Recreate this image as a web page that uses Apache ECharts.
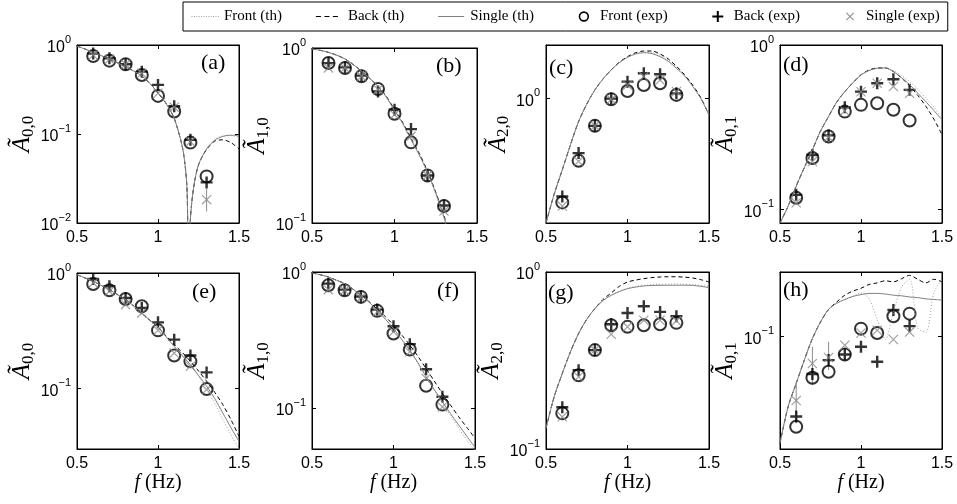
<!DOCTYPE html>
<html><head><meta charset="utf-8">
<script src="https://cdn.jsdelivr.net/npm/echarts/dist/echarts.min.js"></script>
<style>html,body{margin:0;padding:0;background:#fff}#c{width:957px;height:504px}</style>
</head><body><div id="c"></div>
<script>
// ---------------- data ----------------
const F_EXP = [0.6, 0.7, 0.8, 0.9, 1.0, 1.1, 1.2, 1.3];
const F_TH = [0.5,0.55,0.6,0.65,0.7,0.75,0.8,0.85,0.9,0.95,1.0,1.05,1.1,1.15,1.2,1.25,1.3,1.35,1.4,1.45,1.5];
const F_TH_A = [0.5,0.55,0.6,0.65,0.7,0.75,0.8,0.85,0.9,0.95,1.0,1.05,1.1,1.15,1.17,1.18,1.19,1.2,1.22,1.25,1.3,1.35,1.4,1.45,1.5];
const X_TICKS = [0.5, 1, 1.5];

// (a) A0,0
const A_SOLID = [0.97,0.90,0.83,0.76,0.69,0.63,0.57,0.51,0.45,0.37,0.29,0.22,0.15,0.072,0.040,0.022,0.002,0.011,0.025,0.045,0.068,0.085,0.094,0.097,0.095];
const A_DASH  = [0.97,0.90,0.83,0.76,0.69,0.63,0.57,0.51,0.45,0.37,0.29,0.22,0.15,0.072,0.040,0.022,0.002,0.011,0.025,0.045,0.067,0.083,0.086,0.080,0.068];
const A_DOT   = [0.97,0.90,0.83,0.76,0.69,0.63,0.57,0.51,0.45,0.37,0.29,0.22,0.15,0.072,0.040,0.022,0.002,0.011,0.025,0.045,0.068,0.086,0.095,0.096,0.092];
const A_FRONT  = [0.753,0.667,0.607,0.461,0.268,0.179,0.080,0.0334];
const A_BACK   = [0.80,0.709,0.607,0.502,0.356,0.205,0.086,0.0286];
const A_SINGLE = [0.77,0.69,0.607,0.48,0.287,0.20,0.082,0.0183];
const A_ERR = [[1.3, 0.0135, 0.024]];

// (b) A1,0
const B_SOLID = [0.987,0.97,0.944,0.91,0.865,0.805,0.736,0.67,0.604,0.525,0.44,0.37,0.30,0.245,0.195,0.148,0.108,0.075,0.05,0.033,0.02];
const B_DASH  = [0.987,0.97,0.944,0.91,0.865,0.805,0.736,0.67,0.604,0.53,0.445,0.375,0.305,0.25,0.198,0.15,0.11,0.077,0.052,0.035,0.022];
const B_DOT   = [0.987,0.97,0.944,0.91,0.865,0.805,0.736,0.67,0.604,0.525,0.44,0.37,0.30,0.244,0.193,0.146,0.106,0.073,0.049,0.032,0.02];
const B_FRONT  = [0.821,0.769,0.689,0.583,0.421,0.289,0.187,0.125];
const B_BACK   = [0.82,0.775,0.695,0.565,0.444,0.344,0.187,0.126];
const B_SINGLE = [0.769,0.769,0.689,0.58,0.416,0.313,0.187,0.117];

// (c) A2,0
const C_SOLID = [0.2,0.29,0.398,0.55,0.743,0.93,1.119,1.29,1.449,1.59,1.705,1.78,1.81,1.79,1.72,1.62,1.48,1.34,1.17,1.0,0.81];
const C_DASH  = [0.2,0.29,0.398,0.55,0.743,0.93,1.119,1.29,1.449,1.60,1.72,1.81,1.85,1.85,1.78,1.67,1.52,1.36,1.19,1.01,0.81];
const C_DOT   = [0.2,0.29,0.398,0.55,0.743,0.93,1.119,1.29,1.449,1.59,1.71,1.79,1.83,1.82,1.75,1.64,1.50,1.35,1.18,1.0,0.81];
const C_FRONT  = [0.261,0.447,0.703,0.991,1.104,1.193,1.219,1.049];
const C_BACK   = [0.282,0.494,0.703,1.0,1.245,1.387,1.37,1.07];
const C_SINGLE = [0.249,0.444,0.703,0.991,1.19,1.33,1.27,1.096];

// (d) A0,1
const D_SOLID = [0.083,0.105,0.139,0.18,0.231,0.30,0.368,0.45,0.521,0.59,0.658,0.70,0.722,0.725,0.69,0.635,0.575,0.51,0.453,0.40,0.351];
const D_DASH  = [0.083,0.105,0.139,0.18,0.231,0.30,0.368,0.45,0.521,0.59,0.66,0.705,0.725,0.725,0.69,0.63,0.565,0.495,0.425,0.355,0.285];
const D_DOT   = [0.083,0.105,0.139,0.18,0.231,0.30,0.368,0.45,0.521,0.59,0.658,0.70,0.722,0.727,0.70,0.655,0.60,0.54,0.475,0.42,0.36];
const D_FRONT  = [0.118,0.206,0.278,0.394,0.433,0.443,0.404,0.348];
const D_BACK   = [0.123,0.215,0.283,0.419,0.521,0.586,0.619,0.534];
const D_SINGLE = [0.110,0.196,0.276,0.398,0.52,0.586,0.559,0.509];

// (e) A0,0
const E_SOLID = [0.967,0.905,0.847,0.78,0.718,0.65,0.588,0.52,0.451,0.39,0.341,0.28,0.232,0.193,0.161,0.13,0.105,0.082,0.0615,0.046,0.0349];
const E_DASH  = [0.967,0.905,0.847,0.78,0.718,0.65,0.588,0.52,0.451,0.39,0.341,0.285,0.24,0.205,0.172,0.142,0.116,0.093,0.0726,0.054,0.0386];
const E_DOT   = [0.967,0.905,0.847,0.78,0.718,0.645,0.575,0.505,0.44,0.385,0.335,0.28,0.232,0.193,0.16,0.128,0.098,0.075,0.054,0.04,0.030];
const E_FRONT  = [0.803,0.708,0.596,0.515,0.319,0.193,0.172,0.099];
const E_BACK   = [0.887,0.767,0.608,0.498,0.374,0.265,0.193,0.138];
const E_SINGLE = [0.82,0.694,0.532,0.451,0.319,0.203,0.156,0.098];

// (f) A1,0
const F_SOLID = [0.983,0.955,0.919,0.87,0.821,0.75,0.674,0.60,0.523,0.45,0.384,0.32,0.266,0.215,0.170,0.137,0.111,0.091,0.075,0.062,0.0514];
const F_DASH  = [0.983,0.955,0.919,0.87,0.821,0.75,0.674,0.605,0.535,0.47,0.407,0.345,0.29,0.24,0.195,0.158,0.128,0.105,0.0863,0.072,0.060];
const F_DOT   = [0.983,0.955,0.919,0.87,0.821,0.75,0.674,0.60,0.523,0.45,0.384,0.32,0.266,0.213,0.168,0.134,0.108,0.088,0.071,0.058,0.049];
const F_FRONT  = [0.798,0.734,0.656,0.518,0.353,0.269,0.146,0.106];
const F_BACK   = [0.821,0.742,0.66,0.529,0.399,0.295,0.193,0.121];
const F_SINGLE = [0.742,0.734,0.65,0.51,0.363,0.259,0.165,0.102];

// (g) A2,0
const G_SOLID = [0.131,0.197,0.267,0.354,0.449,0.54,0.621,0.69,0.738,0.775,0.805,0.822,0.834,0.84,0.841,0.842,0.842,0.842,0.84,0.83,0.816];
const G_DASH  = [0.131,0.197,0.267,0.354,0.449,0.54,0.621,0.70,0.761,0.83,0.878,0.90,0.917,0.93,0.937,0.94,0.94,0.935,0.925,0.905,0.878];
const G_DOT   = [0.131,0.197,0.267,0.354,0.449,0.54,0.621,0.69,0.74,0.78,0.81,0.828,0.84,0.848,0.852,0.854,0.855,0.853,0.85,0.84,0.83];
const G_FRONT  = [0.159,0.261,0.362,0.50,0.49,0.50,0.507,0.516];
const G_BACK   = [0.172,0.279,0.362,0.507,0.587,0.640,0.595,0.562];
const G_SINGLE = [0.152,0.256,0.362,0.445,0.49,0.534,0.534,0.53];

// (h) A0,1
const H_SOLID = [0.0319,0.0472,0.0606,0.0778,0.098,0.117,0.134,0.143,0.149,0.154,0.157,0.159,0.159,0.158,0.156,0.155,0.153,0.152,0.150,0.149,0.148];
const H_DASH  = [0.0319,0.0472,0.0606,0.0778,0.098,0.117,0.134,0.145,0.156,0.163,0.168,0.175,0.178,0.182,0.18,0.186,0.193,0.185,0.178,0.185,0.18];
const H_DOT   = [0.0319,0.0472,0.0606,0.0778,0.098,0.117,0.134,0.143,0.149,0.154,0.16,0.15,0.12,0.097,0.13,0.17,0.185,0.11,0.105,0.16,0.185];
const H_FRONT  = [0.0381,0.0644,0.0687,0.0826,0.109,0.104,0.1245,0.128];
const H_BACK   = [0.0425,0.067,0.0778,0.0826,0.0897,0.0764,0.133,0.112];
const H_SINGLE = [0.0504,0.075,0.080,0.0913,0.104,0.107,0.097,0.105];
const H_ERR = [[0.6,0.0395,0.0617],[0.7,0.0595,0.0897],[0.8,0.0698,0.0946]];

const PANEL_LABELS = ['(a)','(b)','(c)','(d)','(e)','(f)','(g)','(h)'];
const Y_SUBS = ['0,0','1,0','2,0','0,1','0,0','1,0','2,0','0,1'];
const Y_MIN = [0.01, 0.1, 0.2, 0.083, 0.03, 0.05, 0.1, 0.03];
const Y_MAX = [1, 1, 2, 1, 1, 1, 1, 0.2];
const LEGEND_NAMES = ['Front (th)','Back (th)','Single (th)','Front (exp)','Back (exp)','Single (exp)'];

// ---------------- layout / style ----------------
const GRID_LEFT = [77,312,546,780,77,312,546,780];
const GRID_TOP = [45,48,45,45,273,272,272,272];
const GRID_W = [162,165,163,162,162,163,163,162];
const GRID_BOTTOM = [223,223,223,223,449,449,449,449];
const NAME_GAP = [40,31,12,30,40,31,24,40];
const LABEL_POS = [[201,52],[436,55],[549,57],[783,54],[192,281],[437,280],[548,282],[783,279]];
const SANS = '"Liberation Sans", Arial, Helvetica, sans-serif';
const SERIF = '"Liberation Serif", "Times New Roman", serif';
const COL_DOT = '#a0a0a0', COL_SOLID = '#808080', COL_GRAYMK = '#8a8a8a';

const PLUS_PATH = 'path://M4,0h2v4h4v2h-4v4h-2v-4h-4v-2h4z';
const X_PATH = 'path://M0,0.85L0.85,0L10,9.15L9.15,10Z M10,0.85L0.85,10L0,9.15L9.15,0Z';

const FRAME = 'M0,0h0.01v0.01h-0.01Z M27.99,11.99h0.01v0.01h-0.01Z ';
let dotIcon = ''; for (let x = 0.5; x < 27; x += 2.4) dotIcon += 'M' + x.toFixed(2) + ',5.5h1v1h-1Z ';
const LEGEND_ICONS = [
  'path://' + FRAME + dotIcon,
  'path://' + FRAME + 'M1,5.4h5v1.2h-5Z M9.5,5.4h5v1.2h-5Z M18,5.4h5v1.2h-5Z',
  'path://' + FRAME + 'M1,5.5h26v1h-26Z',
  'path://' + FRAME + 'M11.8,6A5.2,5.2 0 1,0 22.2,6A5.2,5.2 0 1,0 11.8,6Z M13.4,6A3.6,3.6 0 1,1 20.6,6A3.6,3.6 0 1,1 13.4,6Z',
  'path://' + FRAME + 'M16,0.5h2v4.5h4.5v2h-4.5v4.5h-2v-4.5h-4.5v-2h4.5Z',
  'path://' + FRAME + 'M13,2.7L13.7,2L21,9.3L20.3,10Z M21,2.7L13.7,10L13,9.3L20.3,2Z'
];
const LEGEND_COLORS = [COL_DOT, '#000', COL_SOLID, '#000', '#000', COL_GRAYMK];

const PANELS = [
  {thx:F_TH_A, dot:A_DOT, dash:A_DASH, solid:A_SOLID, front:A_FRONT, back:A_BACK, single:A_SINGLE, err:A_ERR},
  {thx:F_TH, dot:B_DOT, dash:B_DASH, solid:B_SOLID, front:B_FRONT, back:B_BACK, single:B_SINGLE, err:[]},
  {thx:F_TH, dot:C_DOT, dash:C_DASH, solid:C_SOLID, front:C_FRONT, back:C_BACK, single:C_SINGLE, err:[]},
  {thx:F_TH, dot:D_DOT, dash:D_DASH, solid:D_SOLID, front:D_FRONT, back:D_BACK, single:D_SINGLE, err:[]},
  {thx:F_TH, dot:E_DOT, dash:E_DASH, solid:E_SOLID, front:E_FRONT, back:E_BACK, single:E_SINGLE, err:[]},
  {thx:F_TH, dot:F_DOT, dash:F_DASH, solid:F_SOLID, front:F_FRONT, back:F_BACK, single:F_SINGLE, err:[]},
  {thx:F_TH, dot:G_DOT, dash:G_DASH, solid:G_SOLID, front:G_FRONT, back:G_BACK, single:G_SINGLE, err:[]},
  {thx:F_TH, dot:H_DOT, dash:H_DASH, solid:H_SOLID, front:H_FRONT, back:H_BACK, single:H_SINGLE, err:H_ERR}
];

const zip = (xs, ys) => xs.map((x, k) => [x, ys[k]]);
function logLabel(v) {
  const e = Math.log10(v), r = Math.round(e);
  if (Math.abs(e - r) > 1e-6) return '';
  return '{b|10}{s|' + (r < 0 ? '\u2212' + (-r) : String(r)) + '}';
}

const grids = [], xAxes = [], yAxes = [], series = [], titles = [];
PANELS.forEach((p, i) => {
  grids.push({left: GRID_LEFT[i], top: GRID_TOP[i], width: GRID_W[i], height: GRID_BOTTOM[i] - GRID_TOP[i],
    show: true, borderColor: '#000', borderWidth: 1, backgroundColor: '#fff', containLabel: false, outerBoundsMode: 'none'});
  const bottomRow = i >= 4;
  const tickStyle = {show: true, inside: true, length: 4, lineStyle: {color: '#000', width: 1}};
  const lineStyle = {show: true, onZero: false, lineStyle: {color: '#000', width: 1}};
  xAxes.push({gridIndex: i, type: 'value', position: 'bottom', min: X_TICKS[0], max: X_TICKS[2], interval: X_TICKS[1] - X_TICKS[0],
    axisLine: lineStyle, axisTick: tickStyle, splitLine: {show: false},
    axisLabel: {margin: 7, color: '#000', fontFamily: SANS, fontSize: 16},
    name: bottomRow ? '{i|f}{r| (Hz)}' : '', nameLocation: 'middle', nameGap: 18,
    nameTextStyle: {rich: {i: {fontFamily: SERIF, fontStyle: 'italic', fontSize: 20, color: '#000'},
                           r: {fontFamily: SERIF, fontSize: 20, color: '#000'}}}});
  xAxes.push({gridIndex: i, type: 'value', position: 'top', min: X_TICKS[0], max: X_TICKS[2], interval: X_TICKS[1] - X_TICKS[0],
    axisLine: lineStyle, axisTick: tickStyle, splitLine: {show: false}, axisLabel: {show: false}});
  yAxes.push({gridIndex: i, type: 'log', logBase: 10, position: 'left', min: Y_MIN[i], max: Y_MAX[i],
    axisLine: lineStyle, axisTick: tickStyle, splitLine: {show: false},
    axisLabel: {margin: 6, formatter: logLabel, rich: {
      b: {fontFamily: SANS, fontSize: 16, color: '#000', lineHeight: 22, verticalAlign: 'bottom'},
      s: {fontFamily: SANS, fontSize: 11, color: '#000', lineHeight: 12, verticalAlign: 'top'}}},
    name: '{a|\u00C3}{s|' + Y_SUBS[i] + '}', nameLocation: 'middle', nameRotate: 90, nameGap: NAME_GAP[i],
    nameTextStyle: {rich: {
      a: {fontFamily: SERIF, fontStyle: 'italic', fontSize: 25, color: '#000', lineHeight: 28, verticalAlign: 'middle'},
      s: {fontFamily: SERIF, fontSize: 17, color: '#000', lineHeight: 16, verticalAlign: 'bottom'}}}});
  yAxes.push({gridIndex: i, type: 'log', logBase: 10, position: 'right', min: Y_MIN[i], max: Y_MAX[i],
    axisLine: lineStyle, axisTick: tickStyle, splitLine: {show: false}, axisLabel: {show: false}});

  const ax = {xAxisIndex: 2 * i, yAxisIndex: 2 * i, silent: true, animation: false};
  series.push(Object.assign({type: 'line', name: LEGEND_NAMES[0], data: zip(p.thx, p.dot), symbol: 'none', showSymbol: false, smooth: 0.3,
    lineStyle: {color: COL_DOT, width: 1, type: [1, 2]}, itemStyle: {color: COL_DOT}}, ax));
  series.push(Object.assign({type: 'line', name: LEGEND_NAMES[1], data: zip(p.thx, p.dash), symbol: 'none', showSymbol: false, smooth: 0.3,
    lineStyle: {color: '#000', width: 1, type: [4, 3]}, itemStyle: {color: '#000'}}, ax));
  series.push(Object.assign({type: 'line', name: LEGEND_NAMES[2], data: zip(p.thx, p.solid), symbol: 'none', showSymbol: false, smooth: 0.3,
    lineStyle: {color: COL_SOLID, width: 1}, itemStyle: {color: COL_SOLID}}, ax));
  if (p.err.length) {
    series.push(Object.assign({type: 'custom', name: 'err', data: p.err, encode: {x: 0, y: [1, 2]},
      renderItem: (params, api) => {
        const a = api.coord([api.value(0), api.value(1)]);
        const b = api.coord([api.value(0), api.value(2)]);
        return {type: 'line', shape: {x1: a[0], y1: a[1], x2: b[0], y2: b[1]}, style: {stroke: COL_GRAYMK, lineWidth: 1}};
      }}, ax));
  }
  series.push(Object.assign({type: 'scatter', name: LEGEND_NAMES[3], data: zip(F_EXP, p.front), symbol: 'circle', symbolSize: 12,
    itemStyle: {color: 'rgba(0,0,0,0)', borderColor: '#000', borderWidth: 2}}, ax));
  series.push(Object.assign({type: 'scatter', name: LEGEND_NAMES[4], data: zip(F_EXP, p.back), symbol: PLUS_PATH, symbolSize: 12,
    itemStyle: {color: '#000'}}, ax));
  series.push(Object.assign({type: 'scatter', name: LEGEND_NAMES[5], data: zip(F_EXP, p.single), symbol: X_PATH, symbolSize: 10,
    itemStyle: {color: COL_GRAYMK}}, ax));

  titles.push({text: PANEL_LABELS[i], left: LABEL_POS[i][0], top: LABEL_POS[i][1], padding: 0,
    textStyle: {fontFamily: SERIF, fontSize: 22, fontWeight: 'normal', color: '#000'}});
});

const chart = echarts.init(document.getElementById('c'), null, {renderer: 'canvas'});
chart.setOption({
  backgroundColor: '#fff',
  animation: false,
  title: titles,
  legend: {
    left: 183, top: 2, orient: 'horizontal', padding: [7, 8, 7, 8], itemGap: 33, itemWidth: 28, itemHeight: 12,
    borderColor: '#000', borderWidth: 1, backgroundColor: '#fff', selectedMode: false,
    textStyle: {fontFamily: SERIF, fontSize: 15, color: '#000'},
    data: LEGEND_NAMES.map((n, k) => ({name: n, icon: LEGEND_ICONS[k],
      itemStyle: {color: LEGEND_COLORS[k], borderWidth: 0, borderColor: 'rgba(0,0,0,0)', opacity: 1}}))
  },
  grid: grids,
  xAxis: xAxes,
  yAxis: yAxes,
  series: series
});
</script>
</body></html>
